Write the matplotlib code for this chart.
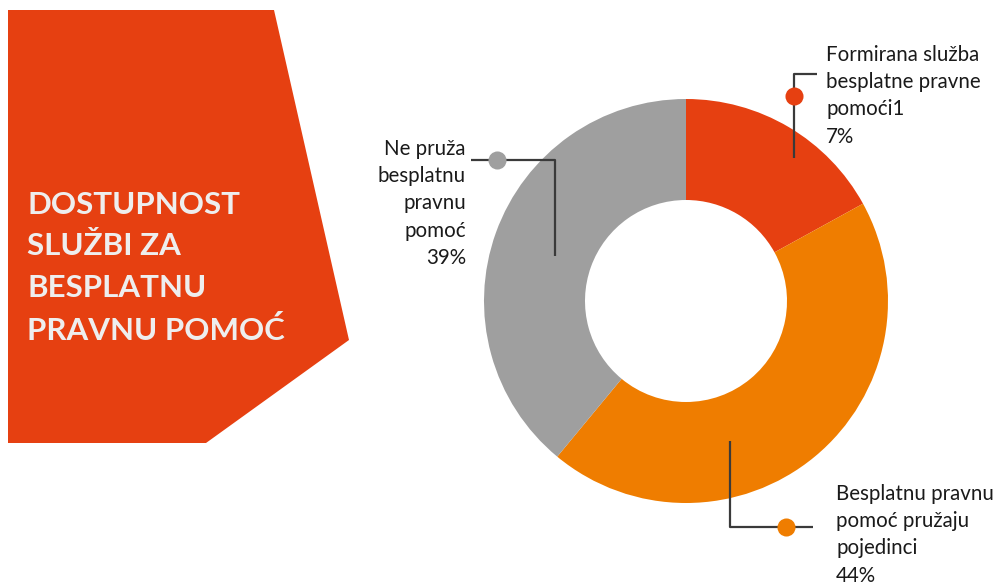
import matplotlib
matplotlib.use("Agg")
import matplotlib.pyplot as plt
from matplotlib.patches import Polygon

# ------------------- Data ------------------- #
labels = [
    "Formirana služba\nbesplatne pravne\npomoći1\n7%",
    "Besplatnu pravnu\npomoć pružaju\npojedinci\n44%",
    "Ne pruža\nbesplatnu\npravnu\npomoć\n39%",
]
values = [17, 44, 39]
colors = ["#E64011", "#EF7D00", "#9F9F9F"]
title = "DOSTUPNOST\nSLUŽBI ZA\nBESPLATNU\nPRAVNU POMOĆ"

W, H = 996, 584
plt.rcParams['font.family'] = ['Lato', 'DejaVu Sans']

fig = plt.figure(figsize=(W / 100, H / 100), dpi=100)

# ------------------- Donut ------------------- #
cx, cy, r = 686, 301, 202
pie_ax = fig.add_axes([(cx - r) / W, (H - cy - r) / H, 2 * r / W, 2 * r / H])
pie_ax.pie(values, colors=colors, startangle=90, counterclock=False, radius=1,
           wedgeprops=dict(width=0.5, linewidth=0))
pie_ax.set_xlim(-1, 1)
pie_ax.set_ylim(-1, 1)
pie_ax.set_aspect('equal')
pie_ax.axis('off')

# ------------------- Overlay (pixel coords) ------------------- #
ax = fig.add_axes([0, 0, 1, 1])
ax.set_xlim(0, W)
ax.set_ylim(H, 0)
ax.patch.set_alpha(0)
ax.axis('off')

ax.add_patch(Polygon([(8, 10), (274, 10), (349, 340), (206, 443), (8, 443)],
                     closed=True, facecolor=colors[0], edgecolor='none'))
ax.text(27, 191, title, color='#EEEEEE', fontsize=22.5, fontweight='bold',
        va='top', ha='left', linespacing=1.58)

line_kw = dict(color='#3a3a3a', lw=1.6, solid_capstyle='butt', zorder=3)
dot_kw = dict(marker='o', ms=13, zorder=4, mec='none')
lab_kw = dict(fontsize=14.8, color='#1a1a1a', va='top', linespacing=1.45)

# red leader
ax.plot([794, 794, 817], [158, 74, 74], **line_kw)
ax.plot(794, 96, color=colors[0], **dot_kw)
ax.text(826, 45, labels[0], ha='left', **lab_kw)

# orange leader
ax.plot([730, 730, 813], [441, 527, 527], **line_kw)
ax.plot(786, 527, color=colors[1], **dot_kw)
ax.text(836, 484, labels[1], ha='left', **lab_kw)

# grey leader
ax.plot([471, 555, 555], [160, 160, 256], **line_kw)
ax.plot(497, 160, color=colors[2], **dot_kw)
ax.text(466, 139, labels[2], ha='right', multialignment='right', **lab_kw)

fig.savefig("out.png", dpi=100)
